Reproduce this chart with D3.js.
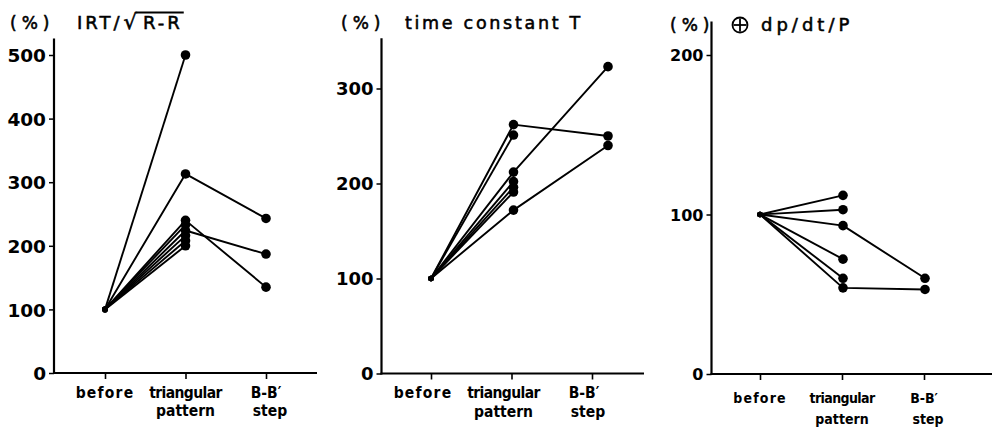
<!DOCTYPE html>
<html><head><meta charset="utf-8">
<script src="https://cdn.jsdelivr.net/npm/d3@7"></script>
<style>
html,body{margin:0;padding:0;background:#fff;}
svg{display:block;}
</style></head>
<body>
<script>
// ---------- data ----------
const categories = ["before", "triangular", "step"];
const categoryLabels = [["before"], ["triangular", "pattern"], ["B-B′", "step"]];

// each row: [before, triangular pattern, B-B' step] (%)
const irtSeries = [
  [100, 500, null],
  [100, 313, 243],
  [100, 240, 135],
  [100, 233, null],
  [100, 224, 187],
  [100, 216, null],
  [100, 208, null],
  [100, 200, null]
];
const tauSeries = [
  [100, 262, 250],
  [100, 251, null],
  [100, 212, 323],
  [100, 202, null],
  [100, 196, null],
  [100, 191, null],
  [100, 172, 240]
];
const dpdtSeries = [
  [100, 112, null],
  [100, 103, null],
  [100, 93, 60],
  [100, 72, null],
  [100, 60, null],
  [100, 54, 53]
];
const irtTicks = [0, 100, 200, 300, 400, 500];
const tauTicks = [0, 100, 200, 300];
const dpdtTicks = [0, 100, 200];

// ---------- layout ----------
const W = 992, H = 427;
const svg = d3.select("body").append("svg").attr("width", W).attr("height", H);

const panels = [
  { series: irtSeries, ticks: irtTicks, yMax: 500, yTop: 526,
    axisX: 54, axisRight: 317, xFirst: 105, xLast: 266, y0: 373, yMaxPx: 55,
    tickFont: 18.5, labelFont: 15.5, labelDx: 0, labelBase: 398, labelGap: 18,
    markDx: [0, 0, 0] },
  { series: tauSeries, ticks: tauTicks, yMax: 300, yTop: 353,
    axisX: 381.5, axisRight: 644, xFirst: 431, xLast: 592, y0: 373.5, yMaxPx: 88.5,
    tickFont: 18, labelFont: 15.5, labelDx: -8, labelBase: 398, labelGap: 18.5,
    markDx: [0, 2, 16] },
  { series: dpdtSeries, ticks: dpdtTicks, yMax: 200, yTop: 221,
    axisX: 711.5, axisRight: 992, xFirst: 760, xLast: 924, y0: 374, yMaxPx: 55,
    tickFont: 16, labelFont: 14, labelDx: 0, labelBase: 403, labelGap: 21,
    markDx: [0, 1, 1] }
];

const tickFamily = "'DejaVu Sans', sans-serif";
const labelFamily = "'DejaVu Sans Condensed', 'DejaVu Sans', sans-serif";
// per-line letter spacing so label widths follow the reference typesetting
const labelSpacing = { "before": 1.2, "triangular": -0.6, "pattern": 0, "B-B′": 0, "step": 0 };

panels.forEach(p => {
  const g = svg.append("g");
  const x = d3.scalePoint().domain(categories).range([p.xFirst, p.xLast]);
  const y = d3.scaleLinear().domain([0, p.yMax]).range([p.y0, p.yMaxPx]);

  g.append("line")
    .attr("x1", p.axisX).attr("x2", p.axisX)
    .attr("y1", p.y0 + 1).attr("y2", y(p.yTop))
    .attr("stroke", "#000").attr("stroke-width", 2.2);
  g.append("line")
    .attr("x1", p.axisX - 1).attr("x2", p.axisRight)
    .attr("y1", p.y0).attr("y2", p.y0)
    .attr("stroke", "#000").attr("stroke-width", 2.2);

  const ya = g.append("g").attr("transform", `translate(${p.axisX},0)`)
    .call(d3.axisLeft(y).tickValues(p.ticks).tickSize(5).tickPadding(3).tickFormat(d3.format("d")));
  ya.select(".domain").remove();
  ya.selectAll(".tick line").attr("stroke", "#000").attr("stroke-width", 1.5);
  ya.selectAll(".tick text")
    .attr("fill", "#000").style("font-family", tickFamily)
    .style("font-weight", "bold").style("font-size", p.tickFont + "px")
    .attr("dy", "0.36em");

  const xa = g.append("g").attr("transform", `translate(0,${p.y0})`)
    .call(d3.axisBottom(x).tickSize(6).tickFormat(""));
  xa.select(".domain").remove();
  xa.selectAll(".tick line").attr("stroke", "#000").attr("stroke-width", 1.6);

  categories.forEach((c, i) => {
    categoryLabels[i].forEach((line, j) => {
      g.append("text")
        .attr("text-anchor", "middle")
        .style("font-family", labelFamily).style("font-stretch", "condensed")
        .style("font-weight", "bold").style("font-size", p.labelFont + "px")
        .style("letter-spacing", labelSpacing[line] + "px")
        .attr("fill", "#000")
        .attr("x", x(c) + p.labelDx + (j === 1 && i === 2 ? 4 : 0))
        .attr("y", p.labelBase + j * p.labelGap)
        .text(line);
    });
  });

  const px = (i) => x(categories[i]) + p.markDx[i];
  const line = d3.line()
    .defined(d => d.v != null)
    .x(d => px(d.i)).y(d => y(d.v));
  p.series.forEach(s => {
    const pts = s.map((v, i) => ({ v, i }));
    g.append("path").datum(pts)
      .attr("d", line)
      .attr("fill", "none").attr("stroke", "#000").attr("stroke-width", 1.9)
      .attr("stroke-linejoin", "round");
  });
  p.series.forEach(s => {
    s.forEach((v, i) => {
      if (v == null) return;
      g.append("circle")
        .attr("cx", px(i)).attr("cy", y(v))
        .attr("r", i === 0 ? 2.8 : 4.8)
        .attr("fill", "#000");
    });
  });
});

// ---------- titles ----------
const titleFamily = "'DejaVu Sans', sans-serif";
function styleTitle(sel, size, spacing) {
  return sel.style("font-family", titleFamily).style("font-size", size + "px")
    .style("letter-spacing", spacing + "px").attr("fill", "#000")
    .attr("stroke", "#000").attr("stroke-width", 0.55);
}
function pct(xp, yb) {
  styleTitle(svg.append("text").attr("x", xp).attr("y", yb), 17, 5).text("(%)");
}
pct(10, 29);
pct(341, 29);
pct(670, 31);

// Panel 1 title: IRT/√R-R
const t1 = styleTitle(svg.append("text").attr("x", 77).attr("y", 29), 18, 3);
t1.append("tspan").text("IRT/");
t1.append("tspan").style("font-size", "21px").style("letter-spacing", "0px").attr("dx", 1).text("√");
t1.append("tspan").attr("dx", 6).text("R-R");
(function () {
  const el = t1.node();
  const n = el.getNumberOfChars();
  const rad = el.getExtentOfChar(4);
  const last = el.getExtentOfChar(n - 1);
  svg.append("line")
    .attr("x1", rad.x + rad.width - 1.5).attr("x2", last.x + last.width + 1)
    .attr("y1", rad.y + 2.5).attr("y2", rad.y + 2.5)
    .attr("stroke", "#000").attr("stroke-width", 1.8);
})();

// Panel 2 title
styleTitle(svg.append("text").attr("x", 405).attr("y", 29), 17.5, 2.7).text("time constant T");

// Panel 3 title: ⊕ dp/dt/P
svg.append("circle").attr("cx", 740).attr("cy", 25).attr("r", 7.5)
  .attr("fill", "none").attr("stroke", "#000").attr("stroke-width", 1.8);
svg.append("line").attr("x1", 733.5).attr("x2", 746.5).attr("y1", 25).attr("y2", 25)
  .attr("stroke", "#000").attr("stroke-width", 1.8);
svg.append("line").attr("x1", 740).attr("x2", 740).attr("y1", 18.5).attr("y2", 31.5)
  .attr("stroke", "#000").attr("stroke-width", 1.8);
styleTitle(svg.append("text").attr("x", 761).attr("y", 31), 18, 4).text("dp/dt/P");
</script>
</body></html>
